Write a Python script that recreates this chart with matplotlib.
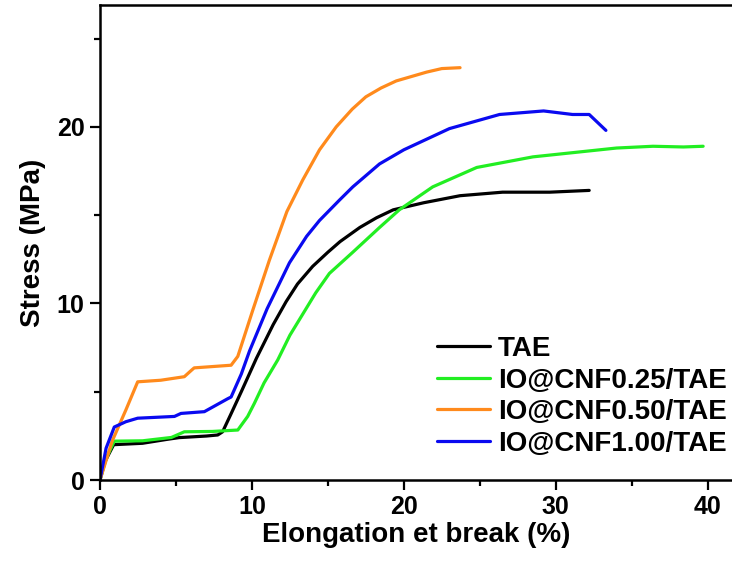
import matplotlib
matplotlib.use("Agg")
import matplotlib.pyplot as plt
from matplotlib.ticker import MultipleLocator

plt.rcParams['font.family'] = ['Liberation Sans', 'DejaVu Sans']
plt.rcParams['font.weight'] = 'bold'

labels = ["TAE", "IO@CNF0.25/TAE", "IO@CNF0.50/TAE", "IO@CNF1.00/TAE"]
colors = ["#000000", "#22EE22", "#FF8A1C", "#0A0AF0"]

# TAE
tae_x = [0, 0.3, 0.9, 2.8, 4.4, 5.2, 7.0, 7.75, 8.07, 8.6, 9.3, 10.3, 11.4, 12.25,
         13.0, 14.0, 15.0, 15.8, 17.1, 18.2, 19.3, 21.3, 23.7, 26.5, 29.6, 32.2]
tae_y = [0, 1.0, 2.0, 2.08, 2.3, 2.4, 2.49, 2.55, 2.73, 3.7, 5.0, 6.9, 8.8, 10.1,
         11.1, 12.1, 12.9, 13.5, 14.3, 14.85, 15.3, 15.7, 16.1, 16.3, 16.3, 16.4]

# IO@CNF0.25/TAE
c025_x = [0, 0.4, 0.94, 2.8, 4.7, 5.55, 7.4, 9.07, 9.72, 10.16, 10.8, 11.7, 12.5,
          13.35, 14.2, 15.1, 16.64, 18.4, 19.7, 21.9, 24.8, 28.5, 31.8, 34.0,
          36.4, 38.4, 39.7]
c025_y = [0, 1.2, 2.2, 2.22, 2.41, 2.73, 2.75, 2.83, 3.6, 4.34, 5.5, 6.8, 8.2,
          9.4, 10.6, 11.7, 12.9, 14.3, 15.3, 16.6, 17.7, 18.3, 18.6, 18.8,
          18.9, 18.86, 18.9]

# IO@CNF0.50/TAE
c050_x = [0, 0.8, 1.7, 2.48, 4.0, 5.55, 6.0, 6.2, 8.63, 9.07, 10.05, 11.15, 12.3,
          13.35, 14.45, 15.55, 16.6, 17.5, 18.5, 19.5, 21.5, 22.5, 23.7]
c050_y = [0, 2.2, 3.96, 5.56, 5.65, 5.85, 6.2, 6.35, 6.5, 7.0, 9.6, 12.45, 15.2,
          17.0, 18.7, 20.0, 21.0, 21.7, 22.2, 22.6, 23.1, 23.3, 23.35]

# IO@CNF1.00/TAE
c100_x = [0, 0.4, 0.94, 1.7, 2.48, 4.9, 5.33, 6.87, 8.4, 8.63, 9.3, 9.84, 11.0,
          12.47, 13.6, 14.45, 15.76, 16.64, 18.4, 20.0, 23.0, 26.3, 29.2, 31.1,
          32.2, 33.3]
c100_y = [0, 1.8, 3.0, 3.3, 3.5, 3.6, 3.77, 3.87, 4.6, 4.7, 6.0, 7.3, 9.7,
          12.3, 13.8, 14.7, 15.85, 16.6, 17.9, 18.7, 19.9, 20.7, 20.9, 20.7,
          20.7, 19.8]

series = [(tae_x, tae_y), (c025_x, c025_y), (c050_x, c050_y), (c100_x, c100_y)]

fig = plt.figure(figsize=(7.32, 5.62), dpi=100)
ax = fig.add_axes([100 / 732, 1 - 480 / 562, 1 - 100 / 732, 475 / 562])

for (x, y), lab, col in zip(series, labels, colors):
    ax.plot(x, y, color=col, lw=2.3, label=lab, solid_capstyle='round',
            solid_joinstyle='round')

ax.set_xlim(0, 41.6)
ax.set_ylim(0, 26.9)
ax.xaxis.set_major_locator(MultipleLocator(10))
ax.xaxis.set_minor_locator(MultipleLocator(5))
ax.yaxis.set_major_locator(MultipleLocator(10))
ax.yaxis.set_minor_locator(MultipleLocator(5))
ax.tick_params(which='major', direction='out', length=7, width=1.6, labelsize=18, pad=4)
ax.tick_params(which='minor', direction='out', length=4, width=1.6)
ax.tick_params(top=False, right=False)
for s in ['left', 'bottom', 'top']:
    ax.spines[s].set_linewidth(1.8)
ax.spines['right'].set_visible(False)

ax.set_xlabel("Elongation et break (%)", fontsize=20, fontweight='bold', labelpad=2)
ax.set_ylabel("Stress (MPa)", fontsize=20, fontweight='bold', labelpad=8)

ax.legend(loc='upper left', bbox_to_anchor=(437 / 732, 1 - 336 / 562),
          bbox_transform=fig.transFigure, frameon=False, fontsize=20,
          borderpad=0, borderaxespad=0, labelspacing=0.2, handlelength=1.9,
          handletextpad=0.3)

fig.savefig("out.png", dpi=100)
